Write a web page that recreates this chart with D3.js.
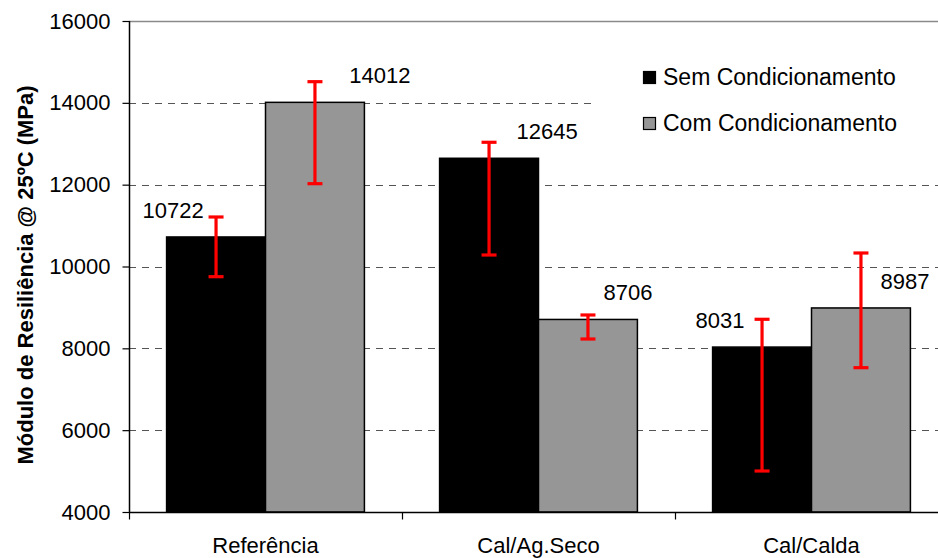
<!DOCTYPE html>
<html>
<head>
<meta charset="utf-8">
<script src="https://cdn.jsdelivr.net/npm/d3@7"></script>
<style>
  html, body { margin: 0; padding: 0; background: #fff; }
  svg { display: block; font-family: "Liberation Sans", Arial, sans-serif; }
</style>
</head>
<body>
<svg id="chart" width="938" height="558"></svg>
<script>
// ---- data ----
const categories = ["Referência", "Cal/Ag.Seco", "Cal/Calda"];
const seriesNames = ["Sem Condicionamento", "Com Condicionamento"];
const semValues = [10722, 12645, 8031];
const comValues = [14012, 8706, 8987];
const semErrLow = [9751, 10281, 5002];
const semErrHigh = [11210, 13036, 8710];
const comErrLow = [12024, 8228, 7527];
const comErrHigh = [14517, 8815, 10330];
const yTicks = [4000, 6000, 8000, 10000, 12000, 14000, 16000];
const yTitle = "Módulo de Resiliência @ 25ºC (MPa)";

// ---- layout (not data) ----
const colors = ["#000000", "#969696"];
const labelDx = [[-43, 58, -42], [65, 40, 44]]; // manual label offsets as in original

const svg = d3.select("#chart");
const pLeft = 129, pRight = 948, pTop = 21, pBottom = 512;

const y = d3.scaleLinear().domain([4000, 16000]).range([pBottom, pTop]);
const x0 = d3.scaleBand().domain(categories).range([pLeft, pRight]).padding(0);
const x1 = d3.scaleBand().domain([0, 1]).range([0, x0.bandwidth()]).paddingInner(0).paddingOuter(0.38);

const series = [
  { vals: semValues, lo: semErrLow, hi: semErrHigh },
  { vals: comValues, lo: comErrLow, hi: comErrHigh }
];

// top border
svg.append("line").attr("x1", pLeft).attr("x2", 938).attr("y1", pTop + 0.5).attr("y2", pTop + 0.5)
  .attr("stroke", "#8a8a8a").attr("stroke-width", 1.5);

// gridlines
svg.append("g").selectAll("line").data(yTicks.filter(d => d > 4000 && d < 16000)).join("line")
  .attr("x1", pLeft).attr("x2", 938)
  .attr("y1", d => Math.round(y(d)) + 0.5).attr("y2", d => Math.round(y(d)) + 0.5)
  .attr("stroke", "#555").attr("stroke-width", 1).attr("stroke-dasharray", "7,6");

// legend background (covers gridline)
svg.append("rect").attr("x", 596).attr("y", 45).attr("width", 342).attr("height", 105).attr("fill", "#fff");

// bars
series.forEach((s, si) => {
  svg.append("g").selectAll("rect").data(categories).join("rect")
    .attr("x", c => x0(c) + x1(si))
    .attr("y", (c, i) => y(s.vals[i]))
    .attr("width", x1.bandwidth())
    .attr("height", (c, i) => y(4000) - y(s.vals[i]))
    .attr("fill", colors[si])
    .attr("stroke", "#000").attr("stroke-width", 1.5);
});

// error bars
series.forEach((s, si) => {
  const g = svg.append("g").attr("stroke", "#ff0000").attr("stroke-width", 3.2);
  categories.forEach((c, i) => {
    const cx = x0(c) + x1(si) + x1.bandwidth() / 2;
    g.append("line").attr("x1", cx).attr("x2", cx).attr("y1", y(s.hi[i])).attr("y2", y(s.lo[i]));
    g.append("line").attr("x1", cx - 7.5).attr("x2", cx + 7.5).attr("y1", y(s.hi[i])).attr("y2", y(s.hi[i]));
    g.append("line").attr("x1", cx - 7.5).attr("x2", cx + 7.5).attr("y1", y(s.lo[i])).attr("y2", y(s.lo[i]));
  });
});

// value labels
series.forEach((s, si) => {
  svg.append("g").selectAll("text").data(categories).join("text")
    .attr("x", (c, i) => x0(c) + x1(si) + x1.bandwidth() / 2 + labelDx[si][i])
    .attr("y", (c, i) => y(s.vals[i]) - 19)
    .attr("text-anchor", "middle")
    .attr("font-size", 22).attr("fill", "#000")
    .text((c, i) => s.vals[i]);
});

// y axis
const yAxis = d3.axisLeft(y).tickValues(yTicks).tickSize(7).tickPadding(12).tickFormat(d3.format("d"));
const gy = svg.append("g").attr("transform", `translate(${pLeft + 0.5},0)`).call(yAxis);
gy.select(".domain").attr("stroke", "#000").attr("stroke-width", 1.5).attr("d", `M0,${pTop}V${pBottom}`);
gy.selectAll(".tick line").attr("stroke", "#000").attr("stroke-width", 1.2);
gy.selectAll(".tick text").attr("font-size", 22).attr("font-family", "Liberation Sans, Arial, sans-serif").attr("fill", "#000");

// x axis
const gx = svg.append("g").attr("transform", `translate(0,${pBottom + 0.5})`);
gx.append("line").attr("x1", pLeft).attr("x2", 938).attr("y1", 0).attr("y2", 0).attr("stroke", "#000").attr("stroke-width", 1.5);
const xTickPos = categories.map(c => x0(c)).concat([pRight]);
gx.selectAll(".xt").data(xTickPos).join("line").attr("class", "xt")
  .attr("x1", d => Math.round(d) + 0.5).attr("x2", d => Math.round(d) + 0.5).attr("y1", 0).attr("y2", 7)
  .attr("stroke", "#000").attr("stroke-width", 1.2);
gx.selectAll("text").data(categories).join("text")
  .attr("x", c => x0(c) + x0.bandwidth() / 2)
  .attr("y", 40)
  .attr("text-anchor", "middle").attr("font-size", 22).attr("fill", "#000")
  .text(c => c);

// y title
svg.append("text")
  .attr("transform", `translate(33,275) rotate(-90)`)
  .attr("text-anchor", "middle").attr("font-size", 22).attr("font-weight", "bold")
  .text(yTitle);

// legend
const leg = svg.append("g");
seriesNames.forEach((n, i) => {
  leg.append("rect").attr("x", 643.5).attr("y", 71.5 + i * 46).attr("width", 12).attr("height", 12)
    .attr("fill", colors[i]).attr("stroke", "#000").attr("stroke-width", 1.2);
  leg.append("text").attr("x", 663).attr("y", 85 + i * 46).attr("font-size", 23).attr("fill", "#000").text(n);
});
</script>
</body>
</html>
